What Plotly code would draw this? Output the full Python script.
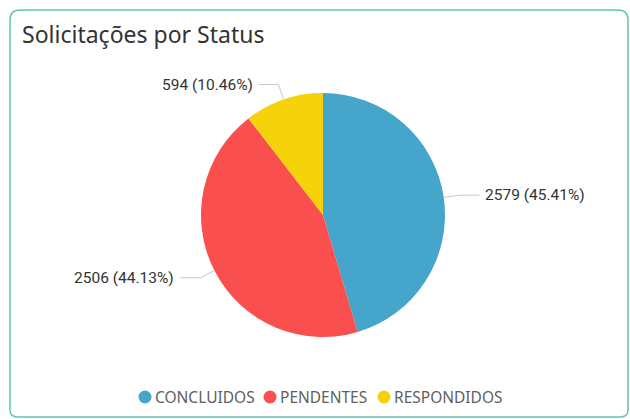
import math
import plotly.graph_objects as go

# ---- data ----
categories = ["CONCLUIDOS", "PENDENTES", "RESPONDIDOS"]
values = [2579, 2506, 594]
colors = ["#45A5CA", "#F94F4F", "#F5D20A"]
title_text = "Solicitações por Status"

# ---- geometry (pixels) ----
W, H = 630, 419
CX, CY, R = 323, 215, 122
LEGEND_Y = 397
LEGEND_X = [145, 270, 384]  # circle centres of the legend items


def px(x):
    return x / W


def py(y):
    return 1 - y / H


fig = go.Figure()
fig.add_trace(go.Pie(
    labels=categories, values=values, sort=False, direction="clockwise", rotation=0,
    marker=dict(colors=colors, line=dict(width=0)),
    textinfo="none", showlegend=False,
    domain=dict(x=[px(CX - R), px(CX + R)], y=[py(CY + R), py(CY - R)]),
))

# data labels with leader lines, computed from the values
total = sum(values)
start = 0.0
shapes = []
annotations = []
for v, col in zip(values, colors):
    frac = v / total
    mid = (start + frac / 2) * 2 * math.pi  # clockwise from 12 o'clock
    start += frac
    sx, sy = math.sin(mid), -math.cos(mid)
    p1 = (CX + R * sx, CY + R * sy)
    p2 = (CX + R * 1.13 * sx, CY + R * 1.13 * sy)
    side = 1 if sx >= 0 else -1
    p3 = (p2[0] + side * 20, p2[1])
    shapes.append(dict(type="path", xref="paper", yref="paper",
                       path=f"M {px(p1[0])},{py(p1[1])} L {px(p2[0])},{py(p2[1])} L {px(p3[0])},{py(p3[1])}",
                       line=dict(color="#C8C8C8", width=1)))
    annotations.append(dict(xref="paper", yref="paper", x=px(p3[0] + side * 4), y=py(p3[1]),
                            xanchor="left" if side > 0 else "right", yanchor="middle",
                            text=f"{v} ({frac * 100:.2f}%)", showarrow=False,
                            font=dict(family="Roboto", size=15.5, color="#333333")))

# legend: circle + label
for cat, col, lx in zip(categories, colors, LEGEND_X):
    shapes.append(dict(type="circle", xref="paper", yref="paper",
                       x0=px(lx - 6.5), x1=px(lx + 6.5), y0=py(LEGEND_Y + 6.5), y1=py(LEGEND_Y - 6.5),
                       fillcolor=col, line=dict(width=0)))
    annotations.append(dict(xref="paper", yref="paper", x=px(lx + 8), y=py(LEGEND_Y),
                            xanchor="left", yanchor="middle", text=cat, showarrow=False,
                            font=dict(family="Noto Sans", size=15.5, color="#606060")))

# card border
shapes.append(dict(type="path", xref="paper", yref="paper",
                   path=(f"M {px(10)},{py(20)} Q {px(10)},{py(10)} {px(20)},{py(10)} "
                         f"L {px(618)},{py(10)} Q {px(628)},{py(10)} {px(628)},{py(20)} "
                         f"L {px(628)},{py(410)} Q {px(628)},{py(417)} {px(620)},{py(417)} "
                         f"L {px(18)},{py(417)} Q {px(10)},{py(417)} {px(10)},{py(410)} Z"),
                   line=dict(color="#5CC6B6", width=1.5)))

fig.update_layout(
    width=W, height=H, margin=dict(l=0, r=0, t=0, b=0),
    paper_bgcolor="white", plot_bgcolor="white", showlegend=False,
    title=dict(text=title_text, x=px(22), xanchor="left", y=py(35), yanchor="middle",
               font=dict(family="Noto Sans", size=23, color="#333333")),
    shapes=shapes, annotations=annotations,
)

fig.write_html("out.html", config={"displayModeBar": False},
               post_script="document.body.style.margin='0';")
